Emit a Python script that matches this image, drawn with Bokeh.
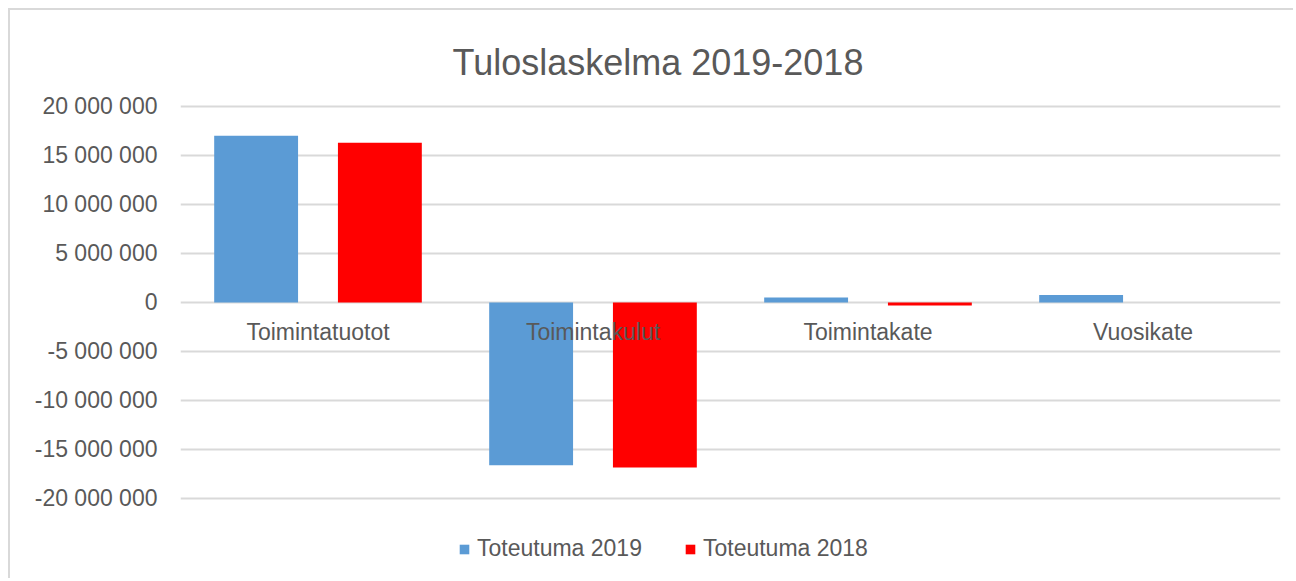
from bokeh.plotting import figure
from bokeh.models import (ColumnDataSource, FactorRange, Range1d, FixedTicker,
                          CustomJSTickFormatter, Legend, LegendItem, Title)
from bokeh.transform import dodge
from bokeh.core.properties import value
from bokeh.embed import file_html
from bokeh.resources import INLINE

# ---- data ----
categories = ["Toimintatuotot", "Toimintakulut", "Toimintakate", "Vuosikate"]
toteutuma_2019 = [17000000, -16600000, 500000, 750000]
toteutuma_2018 = [16300000, -16850000, -300000, 0]
series_names = ["Toteutuma 2019", "Toteutuma 2018"]
y_ticks = [-20000000, -15000000, -10000000, -5000000, 0, 5000000, 10000000, 15000000, 20000000]
title_text = "Tuloslaskelma 2019-2018"

FONT = "Liberation Sans"
TXT = "#595959"
GRID = "#d9d9d9"
BLUE = "#5b9bd5"
RED = "#ff0000"

src = ColumnDataSource(dict(cat=categories, v2019=toteutuma_2019, v2018=toteutuma_2018,
                            zero=[0] * len(categories)))

# frame extends below the lowest gridline so the legend can sit inside it
p = figure(x_range=FactorRange(*categories, range_padding=0),
           y_range=Range1d(-28370000, 20200000),
           width=1285, height=570, output_backend="svg", toolbar_location=None,
           min_border_left=170, min_border_right=15, min_border_top=94, min_border_bottom=0,
           outline_line_color=None, background_fill_color="white", border_fill_color="white")
p.styles = {"margin-left": "8px", "margin-top": "8px",
            "border-left": "2px solid #d9d9d9", "border-top": "2px solid #d9d9d9"}

p.title = Title(text=title_text, align="left", offset=272, vertical_align="top",
                text_font=FONT, text_font_size="36px", text_font_style="normal",
                text_color=TXT, standoff=40)

r1 = p.vbar(x=dodge("cat", -0.225, range=p.x_range), top="v2019", width=0.305,
            source=src, color=BLUE, line_color=None)
r2 = p.vbar(x=dodge("cat", 0.225, range=p.x_range), top="v2018", width=0.305,
            source=src, color=RED, line_color=None)

p.text(x="cat", y="zero", text="cat", source=src, text_font=value(FONT),
       text_font_size="23px", text_color=TXT, text_align="center",
       text_baseline="middle", y_offset=30)

p.xaxis.visible = False
p.xgrid.grid_line_color = None
p.ygrid.grid_line_color = GRID
p.ygrid.grid_line_width = 2
p.ygrid.ticker = FixedTicker(ticks=y_ticks)

ya = p.yaxis[0]
ya.ticker = FixedTicker(ticks=y_ticks)
ya.axis_line_color = None
ya.major_tick_line_color = None
ya.minor_tick_line_color = None
ya.major_tick_out = 0
ya.major_label_standoff = 23
ya.major_label_text_font = FONT
ya.major_label_text_font_size = "23px"
ya.major_label_text_color = TXT
ya.formatter = CustomJSTickFormatter(code="""
const s = Math.abs(tick).toFixed(0).replace(/\\B(?=(\\d{3})+(?!\\d))/g, ' ');
return (tick < 0 ? '-' : '') + s;
""")

legend = Legend(items=[LegendItem(label=series_names[0], renderers=[r1]),
                       LegendItem(label=series_names[1], renderers=[r2])],
                orientation="horizontal", location=(278, 18),
                glyph_width=12, glyph_height=12, label_text_font=FONT,
                label_text_font_size="23px", label_text_color=TXT,
                label_standoff=7, spacing=42, padding=0, margin=0,
                border_line_color=None, background_fill_alpha=0)
p.add_layout(legend, "center")

open("out.html", "w").write(file_html(p, INLINE))
